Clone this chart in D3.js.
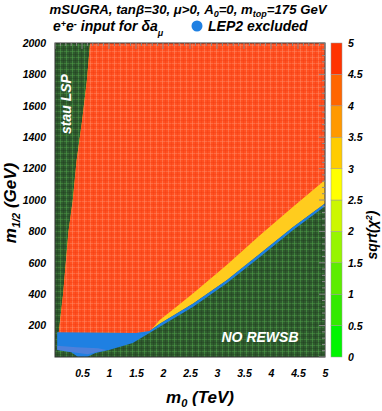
<!DOCTYPE html>
<html lang="en">
<head>
  <meta charset="UTF-8" />
  <title>mSUGRA scan</title>
  <script src="https://cdn.jsdelivr.net/npm/d3@7"></script>
  <style>
    body { margin: 0; background: #fff; }
    text { font-family: "Liberation Sans", Arial, sans-serif; font-style: italic; font-weight: bold; }
  </style>
</head>
<body>
<script>
  const width = 382;
  const height = 411;

  // axis ticks
  const xTicks = [0.5, 1, 1.5, 2, 2.5, 3, 3.5, 4, 4.5, 5];
  const yTicks = [200, 400, 600, 800, 1000, 1200, 1400, 1600, 1800, 2000];
  const zTicks = [0, 0.5, 1, 1.5, 2, 2.5, 3, 3.5, 4, 4.5, 5];
  // colour bands of the sqrt(chi^2) palette, from 0 up to 5
  const bandColors = ['#00f500', '#33ea00', '#5ded00', '#97f500', '#ccf700',
                      '#ffff00', '#ffcc00', '#ff9900', '#ff6600', '#ff3300'];

  // region boundaries, [m0 (TeV), m1/2 (GeV)]
  const stauEdge = [[0.07,155],[0.1,250],[0.15,400],[0.2,600],[0.25,800],[0.33,1000],
                    [0.4,1250],[0.5,1500],[0.59,1760],[0.65,2000]];
  const redBottom = [[0.04,156],[1.0,154],[1.5,152],[1.75,161],[1.94,235],[2.25,320],
                     [2.56,406],[3.18,586],[3.8,777],[4.41,957],[5,1127]];
  const lepTop = [[0.04,157],[1.0,155],[1.5,153],[1.75,165],[1.94,212],[2.56,340],
                  [3.18,489],[3.8,659],[4.41,828],[5,978]];
  const rewsbEdge = [[0.04,45],[0.3,30],[0.42,2],[0.6,2],[0.75,25],[1.0,45],[1.44,89],
                     [1.94,193],[2.56,320],[3.18,469],[3.8,639],[4.41,809],[5,960]];
  const lepCore = [[0.04,72],[0.4,62],[0.8,56],[0.95,45],[0.6,18],[0.3,32],[0.04,46]];

  const svg = d3.select('body').append('svg')
      .attr('width', width).attr('height', height);

  const x = d3.scaleLinear([0, 5], [55, 325]);
  const y = d3.scaleLinear([0, 2000], [357, 43]);
  const z = d3.scaleLinear([0, 5], [357, 43]);

  // cell textures like the ROOT colz grid
  const defs = svg.append('defs');
  function grid(id, base, light, dark) {
    const p = defs.append('pattern').attr('id', id)
        .attr('patternUnits', 'userSpaceOnUse').attr('width', 6).attr('height', 6);
    p.append('rect').attr('width', 6).attr('height', 6).attr('fill', base);
    p.append('rect').attr('x', 0).attr('width', 1).attr('height', 6).attr('fill', light).attr('opacity', 0.55);
    p.append('rect').attr('y', 3).attr('width', 6).attr('height', 1).attr('fill', light).attr('opacity', 0.45);
    p.append('rect').attr('x', 3).attr('width', 1).attr('height', 6).attr('fill', dark).attr('opacity', 0.35);
    p.append('rect').attr('y', 0).attr('width', 6).attr('height', 1).attr('fill', dark).attr('opacity', 0.3);
  }
  grid('gGreen', '#2f5a2e', '#4fa049', '#1c361c');
  grid('gRed', '#ff5020', '#ff8a66', '#f03a10');

  const line = d3.line().x(d => x(d[0])).y(d => y(d[1]));
  const plot = svg.append('g');

  // background: no valid spectrum
  plot.append('rect').attr('x', x(0)).attr('y', y(2000))
      .attr('width', x(5) - x(0)).attr('height', y(0) - y(2000))
      .attr('fill', 'url(#gGreen)');

  // yellow band (region above the LEP band)
  const yellowPoly = stauEdge.concat([[5, 2000]], lepTop.slice().reverse());
  plot.append('path').attr('d', line(yellowPoly) + 'Z').attr('fill', '#ffcc1e');

  // red region
  const redPoly = stauEdge.concat([[5, 2000]], redBottom.slice().reverse());
  plot.append('path').attr('d', line(redPoly) + 'Z').attr('fill', 'url(#gRed)');

  // LEP2 excluded
  const bluePoly = lepTop.concat(rewsbEdge.slice().reverse());
  plot.append('path').attr('d', line(bluePoly) + 'Z').attr('fill', '#1f80e2');
  plot.append('path').attr('d', line(lepCore) + 'Z').attr('fill', '#5a7fd8').attr('opacity', 0.8);

  // frame
  svg.append('rect').attr('x', x(0)).attr('y', y(2000))
      .attr('width', x(5) - x(0)).attr('height', y(0) - y(2000))
      .attr('fill', 'none').attr('stroke', '#333').attr('stroke-width', 1);

  // inward ticks on top and right
  const tickG = svg.append('g').attr('stroke', '#888').attr('stroke-width', 1);
  d3.range(0, 5.001, 0.1).forEach(v => {
    const major = Math.abs(v * 2 - Math.round(v * 2)) < 1e-6;
    tickG.append('line').attr('x1', x(v)).attr('x2', x(v))
        .attr('y1', y(2000)).attr('y2', y(2000) + (major ? 6 : 3));
  });
  d3.range(0, 2001, 40).forEach(v => {
    const major = v % 200 === 0;
    tickG.append('line').attr('x1', x(5)).attr('x2', x(5) - (major ? 6 : 3))
        .attr('y1', y(v)).attr('y2', y(v));
  });

  // axes (labels only)
  const xAxis = svg.append('g').attr('transform', `translate(0,${y(0)})`)
      .call(d3.axisBottom(x).tickValues(xTicks).tickSize(0).tickPadding(13).tickFormat(d3.format('')));
  const yAxis = svg.append('g').attr('transform', `translate(${x(0)},0)`)
      .call(d3.axisLeft(y).tickValues(yTicks).tickSize(0).tickPadding(9).tickFormat(d3.format('d')));
  [xAxis, yAxis].forEach(a => {
    a.select('.domain').remove();
    a.selectAll('text').attr('font-size', 10.5).attr('fill', '#000')
        .style('font-family', '"Liberation Sans", Arial, sans-serif')
        .style('font-style', 'italic').style('font-weight', 'bold');
  });

  // colour bar
  const cb = svg.append('g');
  bandColors.forEach((c, i) => {
    cb.append('rect').attr('x', 331).attr('width', 11)
        .attr('y', z(zTicks[i + 1])).attr('height', z(zTicks[i]) - z(zTicks[i + 1]))
        .attr('fill', c).attr('stroke', '#999').attr('stroke-width', 0.5);
  });
  cb.selectAll('text.z').data(zTicks).join('text')
      .attr('x', 348).attr('y', d => z(d) + 4)
      .attr('font-size', 10.5).text(d => d);

  // titles
  const t1 = svg.append('text').attr('x', 188).attr('y', 14)
      .attr('text-anchor', 'middle').attr('font-size', 13.2);
  t1.append('tspan').text('mSUGRA, tan\u03b2=30, \u03bc>0, A');
  t1.append('tspan').attr('dy', 3).attr('font-size', 9).text('0');
  t1.append('tspan').attr('dy', -3).text('=0, m');
  t1.append('tspan').attr('dy', 3).attr('font-size', 9).text('top');
  t1.append('tspan').attr('dy', -3).text('=175 GeV');

  const t2 = svg.append('text').attr('x', 53).attr('y', 31).attr('font-size', 14);
  t2.append('tspan').text('e');
  t2.append('tspan').attr('dy', -4).attr('font-size', 9).text('+');
  t2.append('tspan').attr('dy', 4).text('e');
  t2.append('tspan').attr('dy', -4).attr('font-size', 9).text('-');
  t2.append('tspan').attr('dy', 4).text(' input for \u03b4a');
  t2.append('tspan').attr('dy', 5).attr('font-size', 9).text('\u03bc');
  svg.append('circle').attr('cx', 197).attr('cy', 26).attr('r', 5.5).attr('fill', '#1f80e2');
  svg.append('text').attr('x', 208).attr('y', 31).attr('font-size', 14).text('LEP2 excluded');

  // axis titles
  const xt = svg.append('text').attr('x', 200).attr('y', 403)
      .attr('text-anchor', 'middle').attr('font-size', 17);
  xt.append('tspan').text('m');
  xt.append('tspan').attr('dy', 4).attr('font-size', 11).text('0');
  xt.append('tspan').attr('dy', -4).text(' (TeV)');

  const yt = svg.append('text').attr('transform', 'translate(16,203) rotate(-90)')
      .attr('text-anchor', 'middle').attr('font-size', 17);
  yt.append('tspan').text('m');
  yt.append('tspan').attr('dy', 4).attr('font-size', 11).text('1/2');
  yt.append('tspan').attr('dy', -4).text(' (GeV)');

  const zt = svg.append('text').attr('transform', 'translate(377,235) rotate(-90)')
      .attr('text-anchor', 'middle').attr('font-size', 14);
  zt.append('tspan').text('sqrt(\u03c7');
  zt.append('tspan').attr('dy', -5).attr('font-size', 9).text('2');
  zt.append('tspan').attr('dy', 5).text(')');

  // region labels
  svg.append('text').attr('transform', 'translate(71,104) rotate(-90)')
      .attr('text-anchor', 'middle').attr('font-size', 14).attr('fill', '#fff').text('stau LSP');
  svg.append('text').attr('x', 260).attr('y', 342)
      .attr('text-anchor', 'middle').attr('font-size', 14).attr('fill', '#fff').text('NO REWSB');
</script>
</body>
</html>
